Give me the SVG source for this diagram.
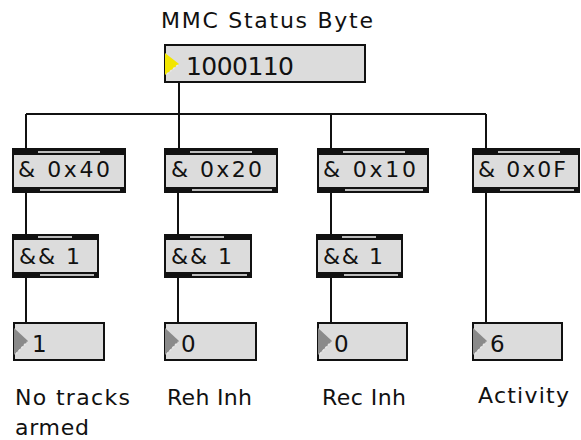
<svg xmlns="http://www.w3.org/2000/svg" width="581" height="440" viewBox="0 0 581 440">
<style>
text{font-family:"DejaVu Sans","Liberation Sans",sans-serif;fill:#111}
.t{font-size:22px}
.n{font-size:23px}
.big{font-size:25px}
.lb{font-size:22px}
.box{fill:#dcdcdc;stroke:#111;stroke-width:2}
.band{fill:#111}
.stripe{fill:#bdbdbd}
.tri{fill:#8a8a8a}
.triy{fill:#f2e600}
.hatch{stroke:#e8e8e8;stroke-width:1.5;stroke-dasharray:2 2;fill:none}
.wire{stroke:#111;stroke-width:2;fill:none}
</style>
<rect width="581" height="440" fill="#fff"/>
<g id="connectors">
<path class="wire" d="M179,83 V148"/>
<path class="wire" d="M26,114 H486"/>
<path class="wire" d="M26,114 V148"/>
<path class="wire" d="M331,114 V148"/>
<path class="wire" d="M486,114 V148"/>
<path class="wire" d="M26,193 V234"/>
<path class="wire" d="M178,193 V234"/>
<path class="wire" d="M331,193 V234"/>
<path class="wire" d="M26,278 V322"/>
<path class="wire" d="M178,278 V322"/>
<path class="wire" d="M331,278 V322"/>
<path class="wire" d="M486,193 V322"/>
</g>
<g id="title">
<text class="lb" x="161" y="28" textLength="212" lengthAdjust="spacing">MMC Status Byte</text>
</g>
<g id="status">
<rect class="box" x="165" y="45" width="200" height="37"/>
<path class="triy" d="M165,53 L179,64 L165,75 Z"/>
<path class="hatch" d="M167,74 L178,65"/>
<text class="big" x="186" y="75" textLength="108" lengthAdjust="spacing">1000110</text>
</g>
<g id="and40">
<rect class="box" x="13" y="149" width="112" height="43"/>
<rect class="band" x="12" y="148" width="114" height="7"/>
<rect class="stripe" x="38" y="151" width="62" height="2"/>
<rect class="band" x="12" y="187" width="114" height="6"/>
<rect class="stripe" x="40" y="189" width="80" height="2"/>
<text class="t" x="18" y="177" textLength="92" lengthAdjust="spacing">&amp; 0x40</text>
</g>
<g id="and20">
<rect class="box" x="165" y="149" width="112" height="43"/>
<rect class="band" x="164" y="148" width="114" height="7"/>
<rect class="stripe" x="190" y="151" width="62" height="2"/>
<rect class="band" x="164" y="187" width="114" height="6"/>
<rect class="stripe" x="192" y="189" width="80" height="2"/>
<text class="t" x="171" y="177" textLength="91" lengthAdjust="spacing">&amp; 0x20</text>
</g>
<g id="and10">
<rect class="box" x="318" y="149" width="110" height="43"/>
<rect class="band" x="317" y="148" width="112" height="7"/>
<rect class="stripe" x="343" y="151" width="62" height="2"/>
<rect class="band" x="317" y="187" width="112" height="6"/>
<rect class="stripe" x="345" y="189" width="78" height="2"/>
<text class="t" x="323" y="177" textLength="93" lengthAdjust="spacing">&amp; 0x10</text>
</g>
<g id="and0F">
<rect class="box" x="473" y="149" width="106" height="43"/>
<rect class="band" x="472" y="148" width="108" height="7"/>
<rect class="stripe" x="498" y="151" width="62" height="2"/>
<rect class="band" x="472" y="187" width="108" height="6"/>
<rect class="stripe" x="500" y="189" width="74" height="2"/>
<text class="t" x="478" y="177" textLength="88" lengthAdjust="spacing">&amp; 0x0F</text>
</g>
<g id="land1">
<rect class="box" x="13" y="235" width="85" height="42"/>
<rect class="band" x="12" y="234" width="87" height="6"/>
<rect class="stripe" x="38" y="236" width="34" height="2"/>
<rect class="band" x="12" y="272" width="87" height="6"/>
<rect class="stripe" x="40" y="274" width="54" height="2"/>
<text class="t" x="19" y="264" textLength="61" lengthAdjust="spacing">&amp;&amp; 1</text>
</g>
<g id="land2">
<rect class="box" x="165" y="235" width="86" height="42"/>
<rect class="band" x="164" y="234" width="88" height="6"/>
<rect class="stripe" x="190" y="236" width="34" height="2"/>
<rect class="band" x="164" y="272" width="88" height="6"/>
<rect class="stripe" x="192" y="274" width="55" height="2"/>
<text class="t" x="171" y="264" textLength="61" lengthAdjust="spacing">&amp;&amp; 1</text>
</g>
<g id="land3">
<rect class="box" x="317" y="235" width="85" height="42"/>
<rect class="band" x="316" y="234" width="87" height="6"/>
<rect class="stripe" x="342" y="236" width="34" height="2"/>
<rect class="band" x="316" y="272" width="87" height="6"/>
<rect class="stripe" x="344" y="274" width="54" height="2"/>
<text class="t" x="323" y="264" textLength="60" lengthAdjust="spacing">&amp;&amp; 1</text>
</g>
<g id="num1">
<rect class="box" x="14" y="323" width="90" height="37"/>
<path class="tri" d="M14,328 L28,341 L14,355 Z"/>
<path class="hatch" d="M16,354 L27,342"/>
<text class="n" x="32" y="352">1</text>
</g>
<g id="num2">
<rect class="box" x="165" y="323" width="91" height="37"/>
<path class="tri" d="M165,328 L179,341 L165,355 Z"/>
<path class="hatch" d="M167,354 L178,342"/>
<text class="n" x="181" y="352">0</text>
</g>
<g id="num3">
<rect class="box" x="318" y="323" width="89" height="37"/>
<path class="tri" d="M318,328 L332,341 L318,355 Z"/>
<path class="hatch" d="M320,354 L331,342"/>
<text class="n" x="334" y="352">0</text>
</g>
<g id="num4">
<rect class="box" x="473" y="323" width="89" height="37"/>
<path class="tri" d="M473,328 L487,341 L473,355 Z"/>
<path class="hatch" d="M475,354 L486,342"/>
<text class="n" x="490" y="352">6</text>
</g>
<g id="labels">
<text class="lb" x="15" y="405" textLength="115" lengthAdjust="spacing">No tracks</text>
<text class="lb" x="15" y="435" textLength="74" lengthAdjust="spacing">armed</text>
<text class="lb" x="167" y="405" textLength="85" lengthAdjust="spacing">Reh Inh</text>
<text class="lb" x="322" y="405" textLength="84" lengthAdjust="spacing">Rec Inh</text>
<text class="lb" x="478" y="403" textLength="91" lengthAdjust="spacing">Activity</text>
</g>
</svg>
